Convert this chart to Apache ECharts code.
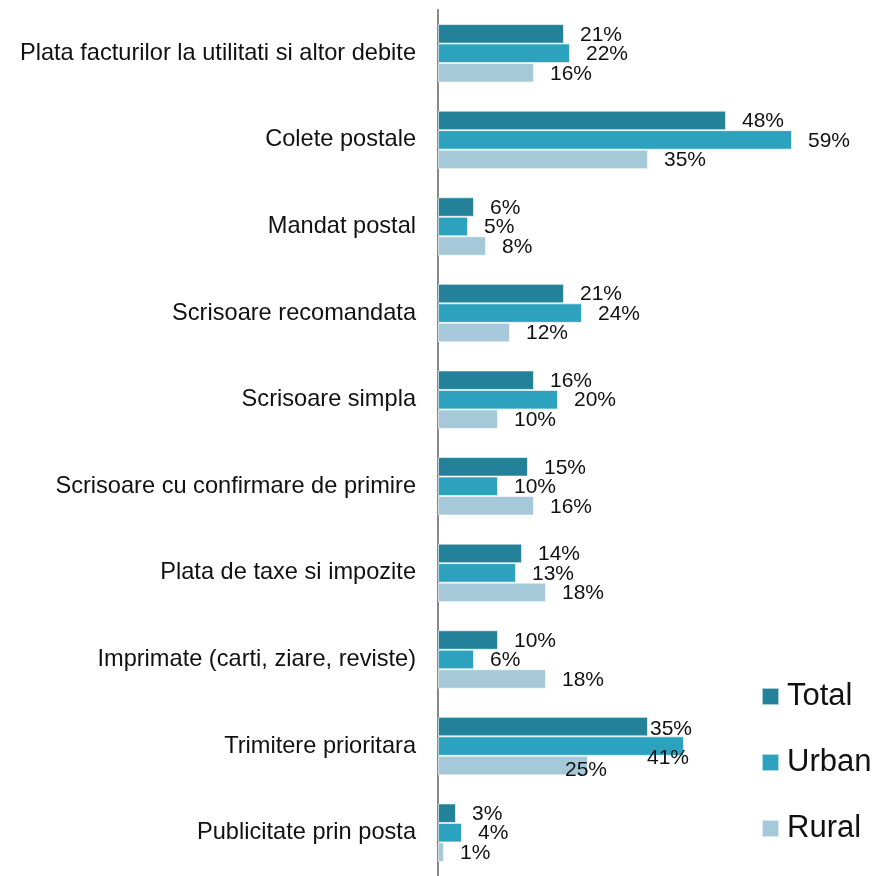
<!DOCTYPE html>
<html><head><meta charset="utf-8">
<script src="https://cdn.jsdelivr.net/npm/echarts@6/dist/echarts.min.js"></script>
<style>html,body{margin:0;padding:0;background:#fff}#c{width:874px;height:876px}</style>
</head><body><div id="c"></div>
<script>
const categories = [
  "Plata facturilor la utilitati si altor debite",
  "Colete postale",
  "Mandat postal",
  "Scrisoare recomandata",
  "Scrisoare simpla",
  "Scrisoare cu confirmare de primire",
  "Plata de taxe si impozite",
  "Imprimate (carti, ziare, reviste)",
  "Trimitere prioritara",
  "Publicitate prin posta"
];
const total = [21, 48, 6, 21, 16, 15, 14, 10, 35, 3];
const urban = [22, 59, 5, 24, 20, 10, 13, 6, 41, 4];
const rural = [16, 35, 8, 12, 10, 16, 18, 18, 25, 1];
const seriesNames = ["Total", "Urban", "Rural"];
const colors = ["#23829A", "#2CA2BF", "#A5C9D8"];
// label offsets for crowded labels (category index -> [dx,dy]) per series
const labelShift = [
  {8: [-14, 3]},
  {8: [-53, 12]},
  {8: [-39, 5]}
];

const chart = echarts.init(document.getElementById('c'));
function mk(name, vals, i) {
  return {
    name: name,
    type: 'bar',
    barWidth: 19.5,
    barGap: '0%',
    itemStyle: {color: colors[i], borderColor: 'rgba(255,255,255,0.6)', borderWidth: 1},
    label: {
      show: true, position: 'right', distance: 16, offset: [0, 1],
      formatter: '{c}%', color: '#111', fontFamily: 'Liberation Sans, Arial', fontSize: 21
    },
    data: vals.map((v, k) => {
      const s = labelShift[i][k];
      return s ? {value: v, label: {offset: s}} : v;
    })
  };
}
chart.setOption({
  animation: false,
  backgroundColor: '#fff',
  grid: {left: 438, top: 10, width: 420, height: 870, containLabel: false},
  legend: {
    orient: 'vertical', left: 756, top: 676,
    itemWidth: 17, itemHeight: 17, itemGap: 35,
    icon: 'rect',
    textStyle: {fontFamily: 'Liberation Sans, Arial', fontSize: 31, color: '#111', padding: [0,0,0,3]},
    data: seriesNames
  },
  xAxis: {type: 'value', min: 0, max: 70, show: false},
  yAxis: {
    type: 'category', data: categories, inverse: true,
    axisLine: {show: true, lineStyle: {color: '#888', width: 2}},
    axisTick: {show: false},
    axisLabel: {margin: 22, color: '#111', fontFamily: 'Liberation Sans, Arial', fontSize: 23.6}
  },
  series: [mk('Total', total, 0), mk('Urban', urban, 1), mk('Rural', rural, 2)]
});
</script></body></html>
